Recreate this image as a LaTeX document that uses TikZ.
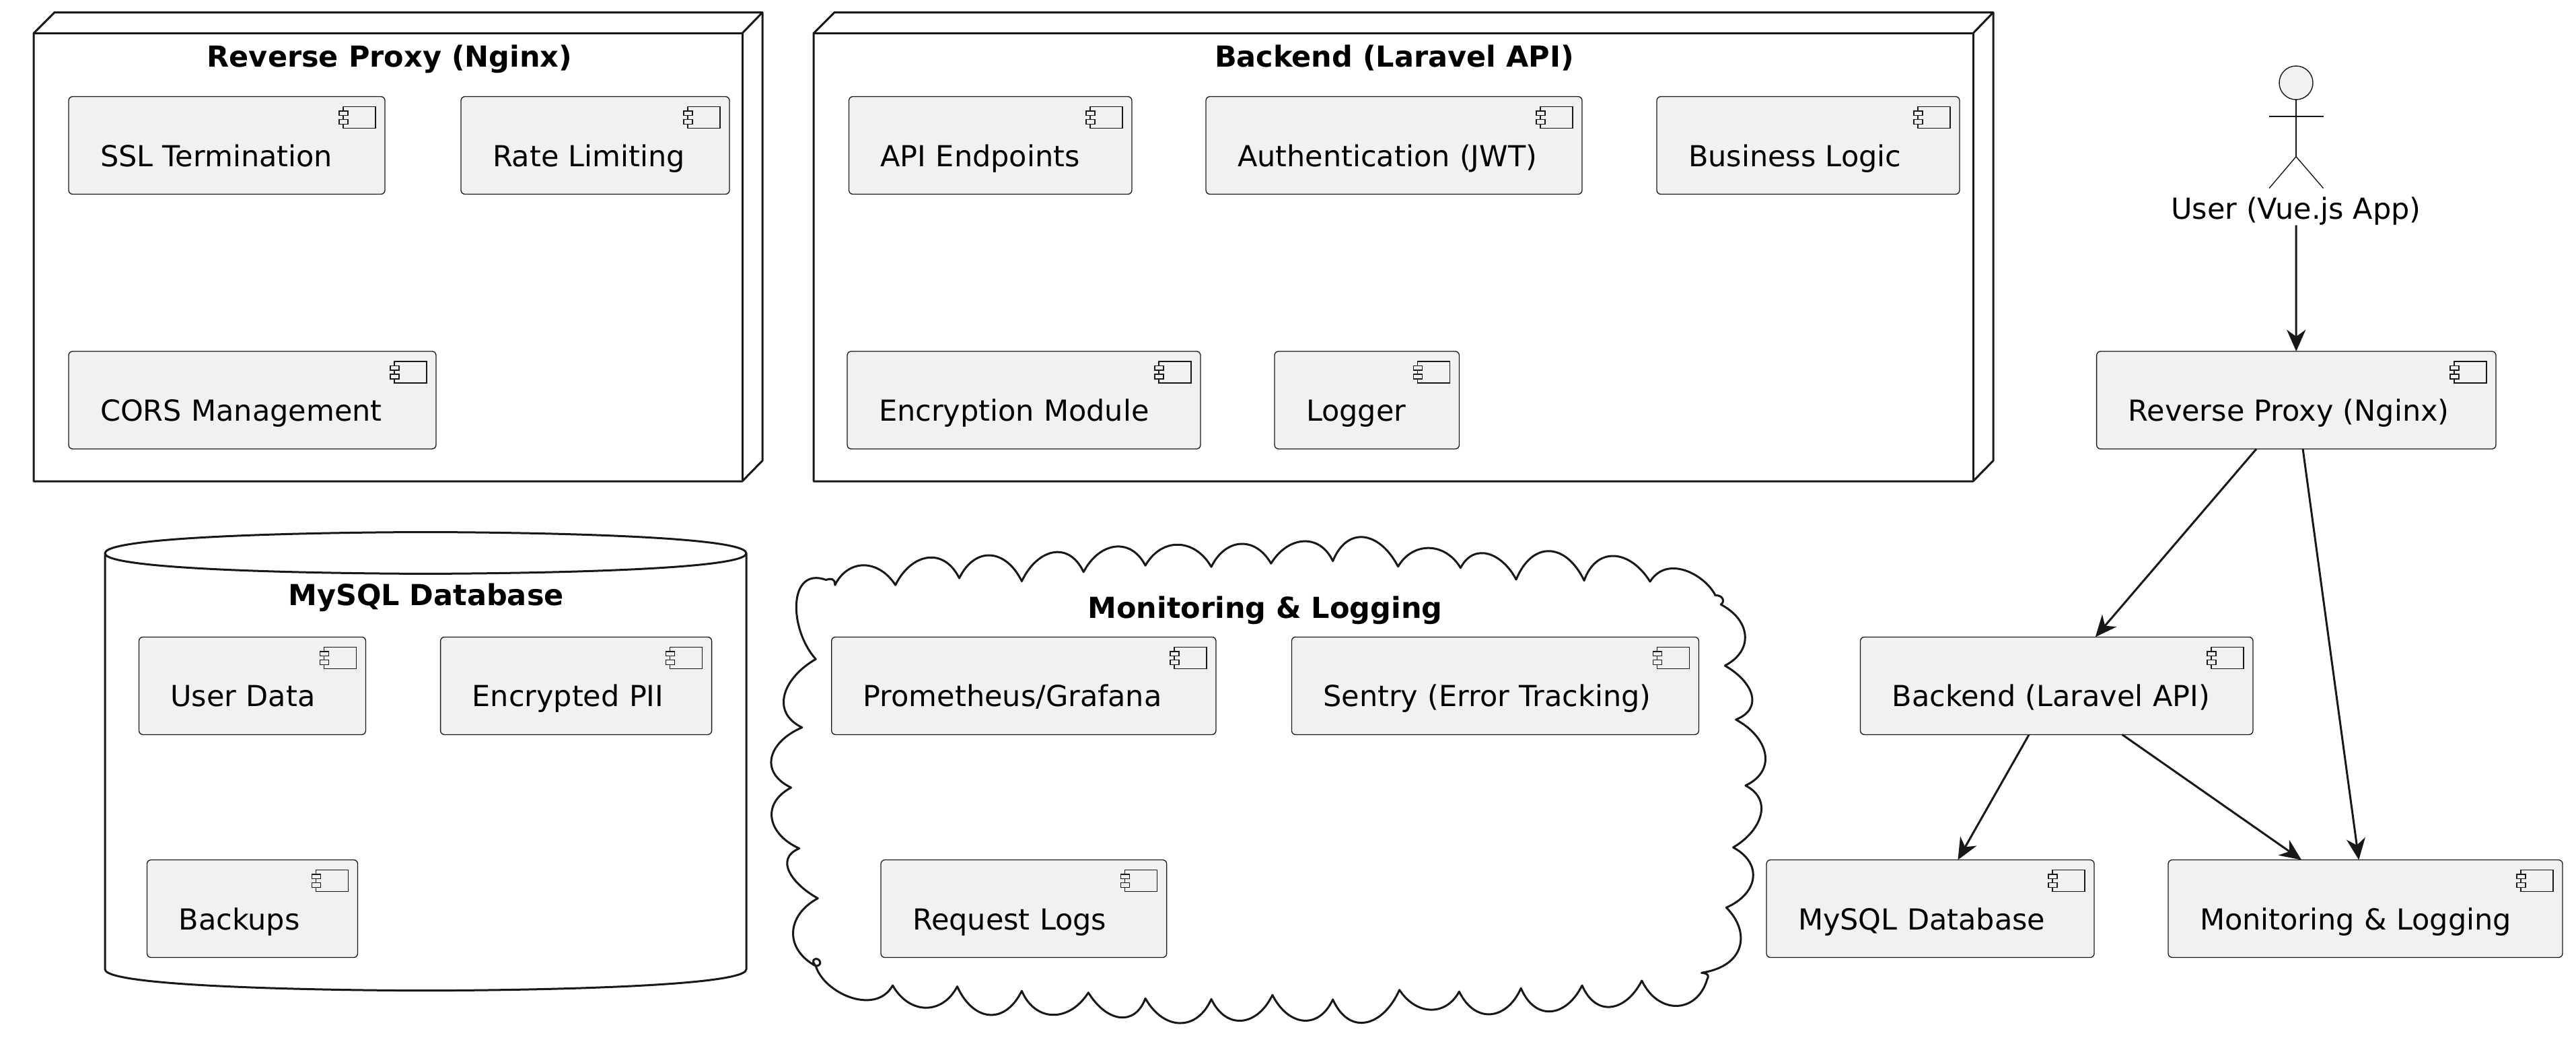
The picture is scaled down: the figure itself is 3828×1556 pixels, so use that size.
\documentclass[tikz,border=0pt]{standalone}
\usepackage{fontspec}
\setmainfont{DejaVu Sans}
\usepackage{tikz}
\usetikzlibrary{arrows.meta}

\definecolor{linecol}{HTML}{181818}
\definecolor{compgray}{HTML}{F1F1F1}

\tikzset{
	compnode/.style={draw=linecol, fill=compgray, line width=1.3pt, rounded corners=6pt, anchor=north west, outer sep=0pt, inner xsep=47pt, inner ysep=0pt, text height=103.5pt, text depth=41.5pt, align=left, font=\fontsize{43pt}{50pt}\selectfont},
	grouptitle/.style={anchor=base, inner sep=0pt, font=\fontsize{43pt}{50pt}\selectfont\bfseries},
	groupline/.style={draw=linecol, line width=3pt, line join=round},
	actorline/.style={draw=linecol, line width=1.4pt},
	compicon/.pic={
		\draw[draw=linecol, fill=compgray, line width=1.2pt] (-62,15) rectangle (-14,47);
		\draw[draw=linecol, fill=compgray, line width=1.2pt] (-68,21.5) rectangle (-55,28);
		\draw[draw=linecol, fill=compgray, line width=1.2pt] (-68,34) rectangle (-55,41);
	}
}

\newcommand{\compbox}[5]{%
	\node[compnode, text width=#4pt-94pt] (#1) at (#2,#3) {#5};
	\pic at (#1.north east) {compicon};
}

\begin{document}
\begin{tikzpicture}[x=1pt,y=-1pt]

\path[use as bounding box, fill=white] (0,0) rectangle (3828,1556);

% node frames
\begin{scope}
	\draw[groupline] (50,49.4) -- (81,18.4) -- (1133,18.4) -- (1133,684.4) -- (1103,715) -- (50,715) -- cycle;
	\draw[groupline] (50,49.4) -- (1103,49.4) -- (1103,715);
	\draw[groupline] (1103,49.4) -- (1133,18.4);
	\node[grouptitle] (proxytitle) at (579,99.5) {Reverse Proxy (Nginx)};

	\draw[groupline] (1209,49.4) -- (1240,18.4) -- (2962,18.4) -- (2962,684.4) -- (2932,715) -- (1209,715) -- cycle;
	\draw[groupline] (1209,49.4) -- (2932,49.4) -- (2932,715);
	\draw[groupline] (2932,49.4) -- (2962,18.4);
	\node[grouptitle] (backendtitle) at (2072,99.5) {Backend (Laravel API)};
\end{scope}

% database
\begin{scope}
	\draw[groupline] (156,822) .. controls (156,790.5) and (632.5,790.5) .. (632.5,790.5) .. controls (632.5,790.5) and (1109,790.5) .. (1109,822)
		-- (1109,1440) .. controls (1109,1471.7) and (632.5,1471.7) .. (632.5,1471.7) .. controls (632.5,1471.7) and (156,1471.7) .. (156,1440) -- cycle;
	\draw[groupline] (156,822) .. controls (156,852.4) and (632.5,852.4) .. (632.5,852.4) .. controls (632.5,852.4) and (1109,852.4) .. (1109,822);
	\node[grouptitle] (dbtitle) at (633,899.6) {MySQL Database};
\end{scope}

% cloud, in the numbers of a stretched crop
\begin{scope}[shift={(1100,760)}, x=1.0204pt, y=-0.5076pt]
	\draw[groupline] (138,215) .. controls +(19,-77) and +(-25,-77) .. (226,215)
		.. controls +(23,-93) and +(-23,-93) .. (319,195)
		.. controls +(23,-95) and +(-23,-95) .. (410,204)
		.. controls +(22,-94) and +(-22,-94) .. (500,177)
		.. controls +(22,-86) and +(-22,-86) .. (590,158)
		.. controls +(24,-84) and +(-24,-84) .. (686,162)
		.. controls +(20,-83) and +(-24,-83) .. (773,152)
		.. controls +(25,-82) and +(-19,-82) .. (863,145)
		.. controls +(21,-104) and +(-27,-104) .. (958,161)
		.. controls +(22,-75) and +(-22,-75) .. (1049,165)
		.. controls +(20,-77) and +(-20,-77) .. (1130,199)
		.. controls +(23,-113) and +(-27,-113) .. (1229,202)
		.. controls +(17,-98) and +(-31,-98) .. (1325,205)
		.. controls +(25,-80) and +(-15,-60) .. (1420,245)
		.. controls (1432,245) and (1434,265) .. (1428,272)
		.. controls +(43,45) and +(43,-45) .. (1434,451)
		.. controls +(41,47) and +(41,-33) .. (1450,609)
		.. controls +(47,51) and +(47,-45) .. (1464,802)
		.. controls +(41,42) and +(41,-48) .. (1446,983)
		.. controls +(45,49) and +(45,-39) .. (1436,1159)
		.. controls +(35,70) and +(65,-20) .. (1400,1350)
		.. controls (1412,1352) and (1410,1362) .. (1408,1370)
		.. controls +(-15,100) and +(24,101) .. (1313,1373)
		.. controls +(-24,93) and +(20,93) .. (1226,1387)
		.. controls +(-24,96) and +(20,96) .. (1137,1395)
		.. controls +(-21,95) and +(23,95) .. (1047,1405)
		.. controls +(-20,74) and +(24,74) .. (960,1400)
		.. controls +(-24,108) and +(24,108) .. (863,1428)
		.. controls +(-21,91) and +(23,91) .. (775,1415)
		.. controls +(-22,92) and +(22,92) .. (686,1427)
		.. controls +(-21,95) and +(27,95) .. (590,1425)
		.. controls +(-16,85) and +(26,85) .. (507,1408)
		.. controls +(-29,90) and +(19,90) .. (410,1403)
		.. controls +(-25,102) and +(23,102) .. (316,1390)
		.. controls +(-22,85) and +(24,85) .. (222,1387)
		.. controls +(-25,90) and +(12,80) .. (110,1330)
		.. controls (122,1330) and (115,1300) .. (107,1312)
		.. controls (105,1318) and (108,1325) .. (110,1330)
		.. controls +(-46,-50) and +(-46,50) .. (113,1132)
		.. controls +(-37,-41) and +(-37,31) .. (86,986)
		.. controls +(-45,-40) and +(-45,48) .. (74,808)
		.. controls +(-48,-47) and +(-48,41) .. (90,632)
		.. controls +(-47,-46) and +(-47,54) .. (110,432)
		.. controls +(-40,-90) and +(-55,-40) .. (125,200)
		.. controls (132,195) and (138,195) .. (138,215) -- cycle;
\end{scope}
\node[grouptitle] (cloudtitle) at (1880,918) {Monitoring \& Logging};

% components
\begin{scope}
	\compbox{ssl}{102}{143.5}{470}{SSL Termination}
	\compbox{rate}{685}{143.5}{399}{Rate Limiting}
	\compbox{cors}{102}{522}{546}{CORS Management}

	\compbox{endpoints}{1261.5}{143.5}{420.5}{API Endpoints}
	\compbox{auth}{1792}{143.5}{559}{Authentication (JWT)}
	\compbox{logic}{2462}{143.5}{450}{Business Logic}
	\compbox{encrypt}{1259}{522}{525}{Encryption Module}
	\compbox{logger}{1894}{522}{274.5}{Logger}

	\compbox{userdata}{206.5}{946.4}{337}{User Data}
	\compbox{pii}{654.6}{946.4}{403}{Encrypted PII}
	\compbox{backups}{218.5}{1277.5}{313}{Backups}

	\compbox{prometheus}{1235.7}{946.4}{571.3}{Prometheus/Grafana}
	\compbox{sentry}{1919.4}{946.4}{605}{Sentry (Error Tracking)}
	\compbox{requests}{1309}{1277.5}{424.7}{Request Logs}

	\compbox{proxy}{3115.6}{522}{593.4}{Reverse Proxy (Nginx)}
	\compbox{backend}{2764.5}{946.4}{583.5}{Backend (Laravel API)}
	\compbox{mysql}{2625}{1277.5}{487}{MySQL Database}
	\compbox{monitoring}{3222}{1277.5}{586}{Monitoring \& Logging}
\end{scope}

% actor
\begin{scope}
	\node[circle, draw=linecol, fill=compgray, line width=1.4pt, minimum size=50pt, inner sep=0pt, outer sep=0pt] (userhead) at (3412,123) {};
	\coordinate (userarml) at (3372,173);
	\coordinate (userarmr) at (3452.5,173);
	\coordinate (userhip) at (3412,232.7);
	\coordinate (userlegl) at (3372,279.7);
	\coordinate (userlegr) at (3452.5,279.7);
	\draw[actorline] (userhead.south) -- (userhip);
	\draw[actorline] (userarml) -- (userarmr);
	\draw[actorline] (userlegl) -- (userhip) -- (userlegr);
	\node[anchor=base, inner sep=0pt, outer sep=0pt, text depth=9.5pt, font=\fontsize{43pt}{50pt}\selectfont] (userlabel) at (3412,325) {User (Vue.js App)};
\end{scope}

\begin{scope}[>={Stealth[length=32pt,width=28pt,inset=10pt]}, every edge/.style={draw=linecol,line width=3pt}]

	\path [->] (userlabel) edge (proxy);
	\path [->] ([xshift=-59.3pt]proxy.south) edge ([xshift=57.5pt]backend.north);
	\path [->] (proxy) edge (monitoring);
	\path [->] (backend) edge (mysql);
	\path [->] ([xshift=97.4pt]backend.south) edge ([xshift=-95pt]monitoring.north);

\end{scope}

\end{tikzpicture}
\end{document}
